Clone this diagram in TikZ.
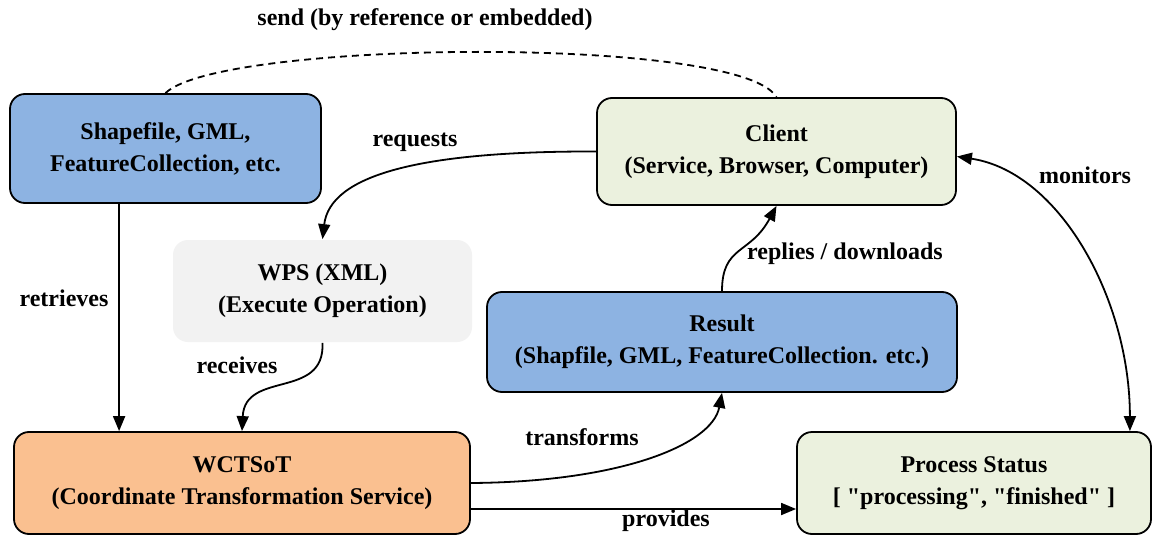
\documentclass[tikz,border=0pt]{standalone}
\usepackage{fontspec}
\setmainfont{Liberation Serif}[Ligatures=TeXOff]
\usetikzlibrary{arrows.meta,calc}
\definecolor{cblue}{HTML}{8DB3E2}
\definecolor{cgreen}{HTML}{EBF1DE}
\definecolor{corange}{HTML}{FAC090}
\definecolor{cgray}{HTML}{F2F2F2}
\begin{document}
\begin{tikzpicture}[x=1pt,y=-1pt,
  txt/.style={font=\fontsize{24}{32}\selectfont\bfseries},
  box/.style={txt,rounded corners=15pt,draw,line width=1.8pt,align=center,inner sep=0pt},
  lbl/.style={txt,inner sep=0pt},
  tip/.tip={Triangle[length=15pt,width=12pt]},
  arr/.style={line width=1.8pt,-tip},
  con/.style={line width=1.8pt}]
\useasboundingbox (0,0) rectangle (1152,535);
\fill[white] (0,0) rectangle (1152,535);

\node[box,fill=cblue,minimum width=311pt,minimum height=109pt] (shp) at (165.5,148.5) {Shapefile, GML,\\FeatureCollection, etc.};
\node[box,fill=cgreen,minimum width=359pt,minimum height=107pt] (client) at (776.5,151.5) {Client\\(Service, Browser, Computer)};
\node[box,draw=none,fill=cgray,minimum width=299pt,minimum height=102pt] (wps) at (322.5,291) {WPS (XML)\\(Execute Operation)};
\node[box,fill=cblue,minimum width=470pt,minimum height=100pt] (result) at (722,342) {Result\\(Shapfile, GML, FeatureCollection. etc.)};
\node[box,fill=corange,minimum width=456pt,minimum height=102pt] (wct) at (242,483) {WCTSoT\\(Coordinate Transformation Service)};
\node[box,fill=cgreen,minimum width=354pt,minimum height=102pt] (ps) at (974,483) {Process Status\\{[} "processing", "finished" {]}};

% connectors
\draw[con,dash pattern=on 7pt off 5pt] (shp.north) .. controls (220,40) and (740,35) .. (client.north);
\draw[arr] (client.west) .. controls (420,151) and (330,175) .. (wps.north);
\coordinate (r1) at ([xshift=110pt]shp.south west);
\coordinate (r2) at ([xshift=106pt]wct.north west);
\draw[arr] (r1) -- (r2);
\draw[arr] (wps.south) .. controls (325,400) and (245,370) .. (wct.north);
\draw[arr] (result.north) .. controls (722,245) and (750,255) .. (client.south);
\draw[arr] (wct.east) .. controls (620,482) and (712,445) .. (result.south);
\coordinate (p1) at ([yshift=-26pt]wct.east);
\draw[arr] (p1) -- (p1 -| ps.west);
\coordinate (m0) at ([yshift=-5pt]client.east);
\coordinate (m1) at ([xshift=-22pt]ps.north east);
\draw[con,tip-tip] (m0) .. controls (1060,172) and (1130,300) .. (m1);

% labels
\node[lbl] (lsend) at (425,20) {send (by reference or embedded)};
\node[lbl] (lreq) at (415,142) {requests};
\node[lbl] (lret) at (64,298) {retrieves};
\node[lbl] (lrec) at (237,365) {receives};
\node[lbl] (lrep) at (845,254) {replies / downloads};
\node[lbl] (ltra) at (582,437) {transforms};
\node[lbl] (lpro) at (666,521) {provides};
\node[lbl] (lmon) at (1085,175) {monitors};
\end{tikzpicture}
\end{document}
